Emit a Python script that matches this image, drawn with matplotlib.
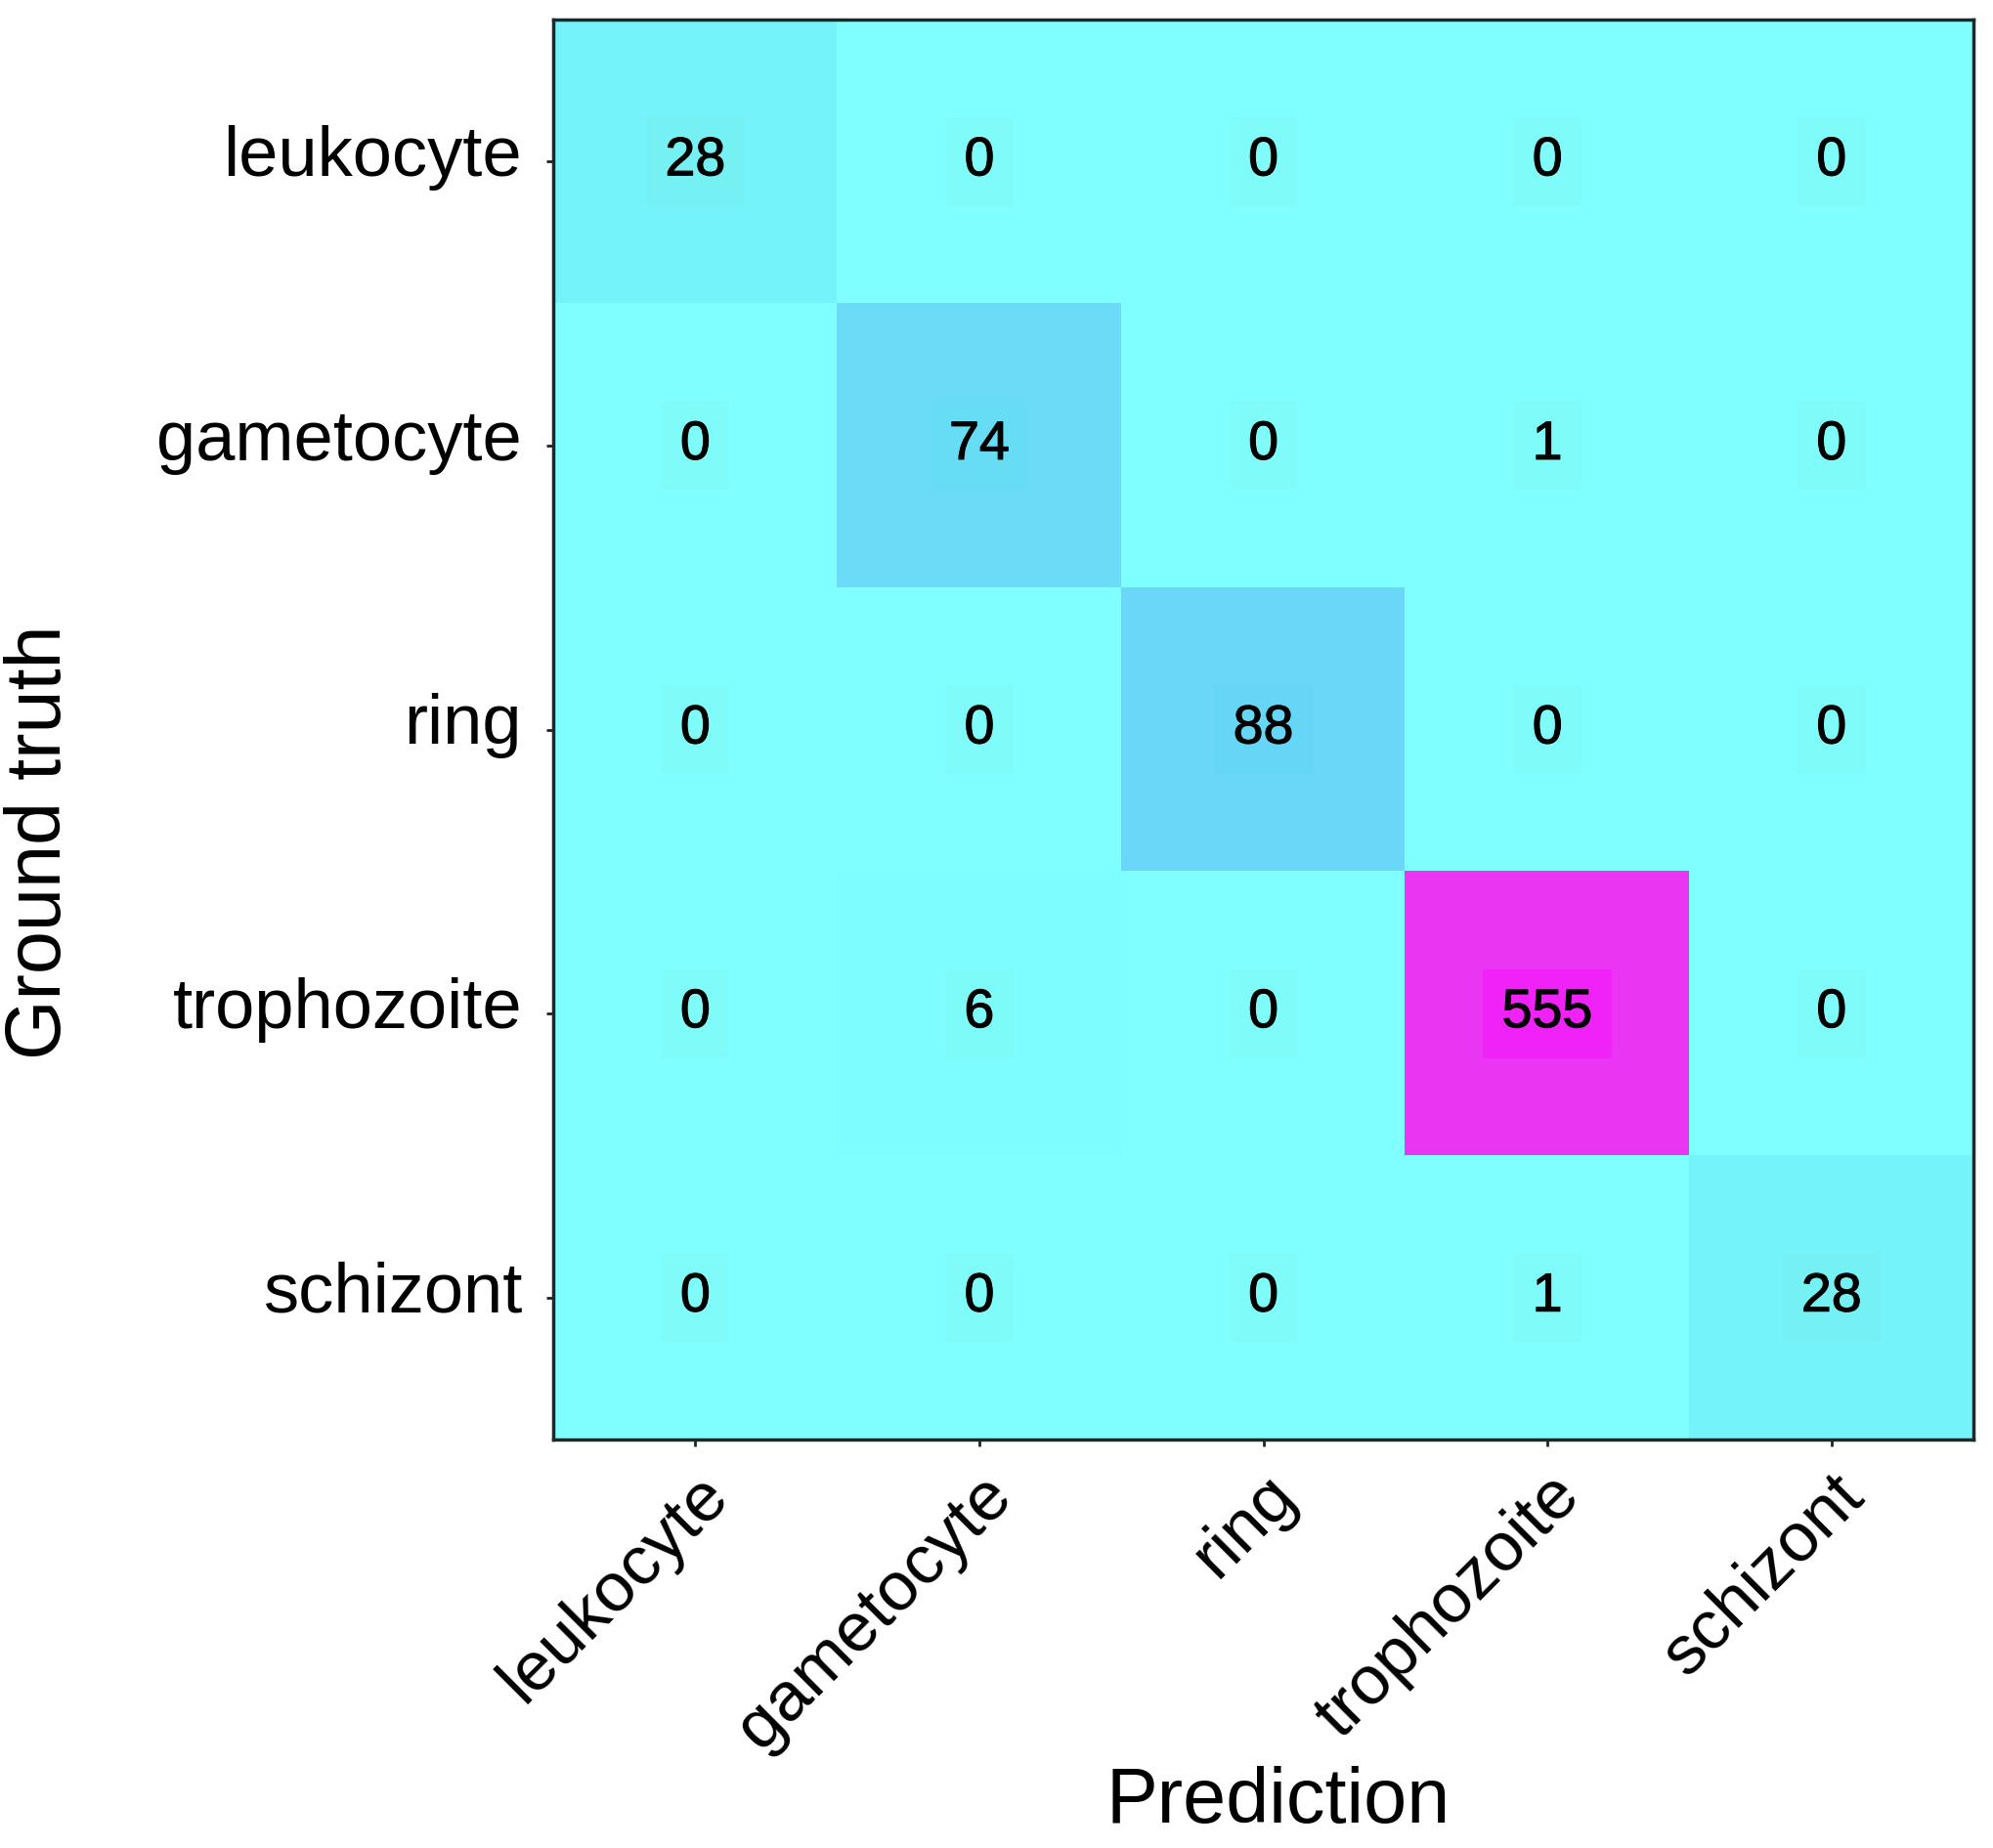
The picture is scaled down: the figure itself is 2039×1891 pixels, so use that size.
import numpy as np
import matplotlib
matplotlib.use("Agg")
import matplotlib.pyplot as plt
import matplotlib.transforms as mtransforms
import matplotlib.patheffects as pe
from matplotlib.colors import LinearSegmentedColormap, to_rgb

classes = ["leukocyte", "gametocyte", "ring", "trophozoite", "schizont"]

# rows = ground truth, cols = prediction
row_leukocyte = [28, 0, 0, 0, 0]
row_gametocyte = [0, 74, 0, 1, 0]
row_ring = [0, 0, 88, 0, 0]
row_trophozoite = [0, 6, 0, 555, 0]
row_schizont = [0, 0, 0, 1, 28]

cm = np.array([row_leukocyte, row_gametocyte, row_ring, row_trophozoite, row_schizont])

plt.rcParams["font.family"] = ["Liberation Sans", "DejaVu Sans"]

cmap = LinearSegmentedColormap.from_list(
    "cyan_magenta",
    [(0.0, "#7fffff"), (0.05, "#74f3fa"), (0.133, "#6cdcf8"),
     (0.159, "#6ad6f8"), (1.0, "#ea36f3")])

fig = plt.figure(figsize=(20.4, 18.91), dpi=100)
ax = fig.add_axes([566 / 2040, 1 - 1473 / 1891, 1453 / 2040, 1453 / 1891])

ax.imshow(cm, cmap=cmap, vmin=0, vmax=cm.max(), aspect="auto",
          interpolation="nearest")


def box_color(v):
    r, g, b = to_rgb(cmap(v / cm.max()))
    if v > 300:
        return (min(r + 0.02, 1), max(g - 0.08, 0), min(b + 0.02, 1))
    if v > 50:
        return (r - 0.02, g, b - 0.01)
    return (r, g - 0.01, b - 0.025)


for i in range(cm.shape[0]):
    for j in range(cm.shape[1]):
        v = cm[i, j]
        ax.text(j, i, str(v), ha="center", va="center", fontsize=40,
                color="black",
                path_effects=[pe.withStroke(linewidth=0.8, foreground="black")],
                bbox=dict(boxstyle="square,pad=0.35", fc=box_color(v), ec="none"))

ax.set_xticks(range(len(classes)))
ax.set_yticks(range(len(classes)))
ax.set_xticklabels(classes, rotation=45, ha="right", va="top",
                   rotation_mode="anchor", fontsize=51)
ax.set_yticklabels(classes, fontsize=52)
ax.tick_params(length=5, width=2, color="#222222")
ax.tick_params(axis="x", pad=12)
ax.tick_params(axis="y", pad=18)

shift_up = mtransforms.ScaledTranslation(0, 8 / 72, fig.dpi_scale_trans)
for lab in ax.get_yticklabels():
    lab.set_transform(lab.get_transform() + shift_up)

for s in ax.spines.values():
    s.set_linewidth(2.5)
    s.set_color("#1c2a2a")

fig.text(42 / 2040, 1 - 862 / 1891, "Ground truth", rotation=90,
         ha="center", va="center", fontsize=57)
fig.text(1308 / 2040, 1 - 1845 / 1891, "Prediction",
         ha="center", va="center", fontsize=57)

fig.savefig("out.png", dpi=100, facecolor="white")
